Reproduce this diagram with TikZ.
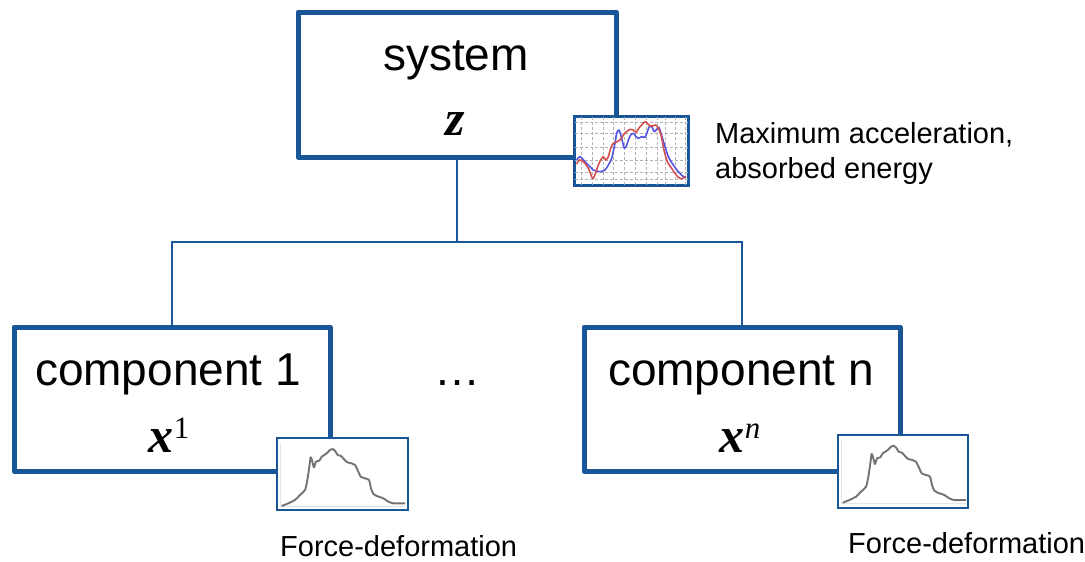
\documentclass[tikz,border=0pt]{standalone}
\usepackage{fontspec}
\setmainfont{Liberation Sans}
\newfontfamily\varfont{Liberation Serif}
\definecolor{boxblue}{RGB}{24,86,152}
\definecolor{curvered}{RGB}{212,80,80}
\definecolor{curveblue}{RGB}{85,85,230}

% bold italic variable with an optional raised index
\newcommand\varsym[1]{{\fontsize{50}{52}\selectfont\varfont\bfseries\itshape #1}}
\newcommand\varidx[1]{\raisebox{14pt}{\fontsize{31}{31}\selectfont\varfont #1}}

% force-deformation trace, in a local 1/3 scale frame
\newcommand\fdtrace{plot[smooth, tension=0.45] coordinates {
  (35,228) (55,220) (75,210) (90,195) (105,180) (112,150) (118,110) (122,82)
  (127,95) (132,112) (138,95) (148,92) (155,80) (163,75) (170,70) (180,60)
  (188,57) (195,62) (203,75) (213,78) (222,88) (232,97) (245,100) (255,105)
  (265,125) (272,140) (285,145) (297,150) (303,175) (310,192) (320,198)
  (340,205) (355,215) (370,220) (390,220) (405,220)}}

\begin{document}
\begin{tikzpicture}[x=1pt,y=-1pt,
  box/.style={draw=boxblue, line width=5pt, line join=round, fill=white,
    rectangle, inner sep=0pt},
  conn/.style={draw=boxblue, line width=2pt},
  chart/.style={draw=boxblue, line width=2pt, fill=white, rectangle, inner sep=0pt},
  big/.style={font=\fontsize{46}{52}\selectfont, inner sep=0pt, anchor=base},
  lab/.style={font=\fontsize{29}{35}\selectfont, inner sep=0pt, anchor=base west},
  gridln/.style={gray!60, line width=0.6pt, densely dashed},
  axisln/.style={gray!20, line width=0.8pt},
  fdline/.style={draw=black!55, line width=1.9pt, line join=round},
  accline/.style={line width=1.6pt, line join=round},
]
\useasboundingbox (0,0) rectangle (1085,562);

% boxes
\node[box, minimum width=318pt, minimum height=145pt] (sys) at (457,84.5) {};
\node[box, minimum width=316pt, minimum height=144pt] (c1) at (172,399) {};
\node[box, minimum width=316pt, minimum height=144pt] (cn) at (742,399) {};

% tree connectors
\coordinate (bus) at (457,242);
\draw[conn] (sys.south) -- (bus);
\draw[conn] (bus) -| (c1.north);
\draw[conn] (bus) -| (cn.north);

% box texts
\node[big] (tsys) at (456,70) {system};
\node[big] (tz) at (455,135) {\varsym{z}};
\node[big] (tc1) at (168,385) {component 1};
\node[big] (tx1) at (169,452) {\varsym{x}\varidx{1}};
\node[big] (tcn) at (741,385) {component n};
\node[big] (txn) at (740,452) {\varsym{x}\varidx{\itshape n}};
\node[big] (dots) at (457,385) {…};

% acceleration chart
\node[chart, minimum width=113pt, minimum height=68pt] (sch) at (631.5,151) {};
\begin{scope}
  \clip (sch.south west) rectangle (sch.north east);
  \foreach \gx in {581,592,603,613,624,635,646,657,665,675,685}
    \draw[gridln] (\gx,117) -- (\gx,185);
  \foreach \gy in {122,133,147,160,172,179}
    \draw[gridln] (575,\gy) -- (688,\gy);
  \begin{scope}[shift={(560,100)}, scale=1/3]
    \draw[curveblue, accline] plot[smooth, tension=0.45] coordinates {
      (50,180) (60,170) (75,185) (90,200) (100,210) (120,215) (135,210) (145,195)
      (155,175) (165,130) (170,100) (177,90) (185,115) (193,145) (200,135)
      (205,120) (212,105) (220,100) (228,110) (235,115) (245,110) (255,112)
      (262,95) (268,80) (275,80) (283,95) (290,88) (297,82) (303,100) (312,130)
      (325,170) (340,195) (355,215) (368,228) (378,232)};
    \draw[curvered, accline] plot[smooth, tension=0.45] coordinates {
      (50,192) (58,180) (70,185) (85,205) (95,230) (100,236) (108,215) (115,195)
      (122,180) (130,170) (138,180) (145,170) (152,145) (160,130) (172,125)
      (182,118) (190,105) (200,95) (210,88) (220,90) (228,97) (236,85) (245,75)
      (255,65) (262,70) (270,78) (278,78) (287,75) (295,85) (303,105) (312,150)
      (322,185) (335,205) (345,220) (355,232) (365,236) (378,230)};
  \end{scope}
\end{scope}
\draw[chart, fill=none] (sch.south west) rectangle (sch.north east);

% force-deformation charts
\node[chart, minimum width=131pt, minimum height=72pt] (f1) at (342.5,474) {};
\begin{scope}[shift={(270,430)}, scale=1/3]
  \draw[axisln] (32,40) -- (32,229) -- (405,229);
  \draw[fdline] \fdtrace;
\end{scope}
\node[chart, minimum width=130pt, minimum height=73pt] (fn) at (903,471.5) {};
\begin{scope}[shift={(831,426.7)}, scale=1/3]
  \draw[axisln] (32,40) -- (32,229) -- (405,229);
  \draw[fdline] \fdtrace;
\end{scope}

% captions
\node[lab] (lacc) at (715,143) {Maximum acceleration,};
\node[lab] (labs) at (715,178) {absorbed energy};
\node[lab] (lf1) at (280,556) {Force-deformation};
\node[lab] (lfn) at (848,553) {Force-deformation};
\end{tikzpicture}
\end{document}
